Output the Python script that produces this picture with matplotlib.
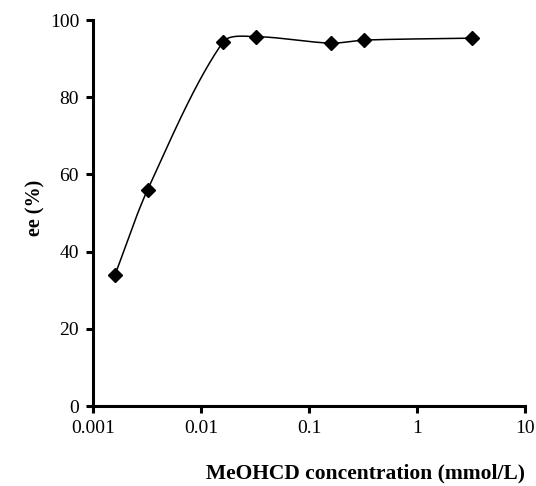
import numpy as np
import matplotlib
matplotlib.use("Agg")
import matplotlib.pyplot as plt

# Data
conc = [0.0016, 0.0032, 0.016, 0.032, 0.16, 0.32, 3.2]   # mmol/L
ee = [34, 56, 94.3, 95.7, 94.0, 94.8, 95.3]              # %
xticks = [0.001, 0.01, 0.1, 1, 10]
xticklabels = ["0.001", "0.01", "0.1", "1", "10"]
yticks = [0, 20, 40, 60, 80, 100]

plt.rcParams['font.family'] = ['Liberation Serif', 'DejaVu Serif']

fig = plt.figure(figsize=(5.36, 4.86), dpi=100)
ax = fig.add_axes([0.1735, 0.1646, 0.806, 0.7942])

ax.set_xscale('log')
ax.set_xlim(0.001, 10)
ax.set_ylim(0, 100)

# Excel-style smoothed line: Bezier segments computed in display space
P = ax.transData.transform(np.column_stack([conc, ee]))
n = len(P)
K = 0.3
def unit(v):
    return v / np.hypot(*v)
tang = []
for i in range(n):
    a = P[max(i - 1, 0)]
    b = P[min(i + 1, n - 1)]
    tang.append(unit(b - a))
t = np.linspace(0, 1, 50)[:, None]
segs = []
for i in range(n - 1):
    p1, p2 = P[i], P[i + 1]
    L = np.hypot(*(p2 - p1))
    c1 = p1 + tang[i] * L * K
    c2 = p2 - tang[i + 1] * L * K
    seg = (1 - t) ** 3 * p1 + 3 * (1 - t) ** 2 * t * c1 + 3 * (1 - t) * t ** 2 * c2 + t ** 3 * p2
    segs.append(seg)
curve = ax.transData.inverted().transform(np.vstack(segs))
ax.plot(curve[:, 0], curve[:, 1], color='black', lw=1.1, zorder=2)
ax.plot(conc, ee, linestyle='none', marker='D', ms=6.8, color='black', zorder=3)

ax.set_xticks(xticks)
ax.set_xticklabels(xticklabels)
ax.set_yticks(yticks)
ax.xaxis.set_minor_locator(matplotlib.ticker.NullLocator())

for s in ['top', 'right']:
    ax.spines[s].set_visible(False)
for s in ['left', 'bottom']:
    ax.spines[s].set_linewidth(2.2)
ax.tick_params(axis='both', direction='out', length=5, width=2.2, labelsize=14, pad=5)

fig.text(0.681, 0.026, "MeOHCD concentration (mmol/L)", ha='center', va='center',
         fontsize=15.5, fontweight='bold')
fig.text(0.066, 0.572, "ee (%)", ha='center', va='center', rotation=90,
         fontsize=14.5, fontweight='bold')

fig.savefig('out.png', dpi=100)
